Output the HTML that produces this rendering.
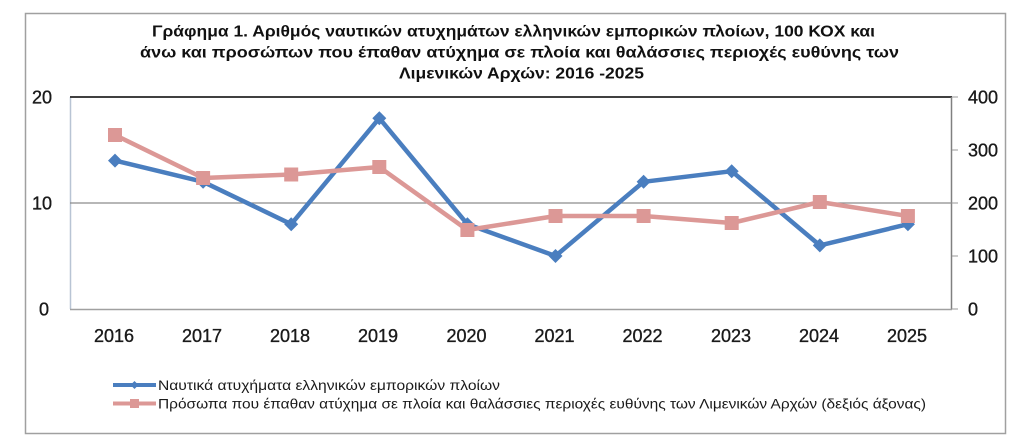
<!DOCTYPE html>
<html><head><meta charset="utf-8"><style>
html,body{margin:0;padding:0;background:#fff;}
svg{display:block;}
text{font-family:"Liberation Sans","DejaVu Sans",sans-serif;}
</style></head><body>
<svg width="1024" height="445" viewBox="0 0 1024 445" xmlns="http://www.w3.org/2000/svg">
<rect x="0" y="0" width="1024" height="445" fill="#fff"/>
<!-- outer frame -->
<rect x="25.5" y="13.5" width="980" height="420" fill="#fff" stroke="#a0a0a0" stroke-width="1.5"/>
<!-- title -->
<g font-weight="bold" font-size="15.5" fill="#111">
<text x="152" y="36.5" textLength="723" lengthAdjust="spacingAndGlyphs">Γράφημα 1. Αριθμός ναυτικών ατυχημάτων ελληνικών εμπορικών πλοίων, 100 ΚΟΧ και</text>
<text x="140" y="57.5" textLength="759" lengthAdjust="spacingAndGlyphs">άνω και προσώπων που έπαθαν ατύχημα σε πλοία και θαλάσσιες περιοχές ευθύνης των</text>
<text x="399" y="78.5" textLength="245" lengthAdjust="spacingAndGlyphs">Λιμενικών Αρχών: 2016 -2025</text>
</g>
<!-- plot area -->
<line x1="70.5" y1="97" x2="70.5" y2="309" stroke="#b8c4d4" stroke-width="1.5"/>
<line x1="70" y1="97" x2="952" y2="97" stroke="#404040" stroke-width="2"/>
<line x1="951.5" y1="97" x2="951.5" y2="309.5" stroke="#808080" stroke-width="1.5"/>
<line x1="70" y1="309.5" x2="952" y2="309.5" stroke="#a0a0a0" stroke-width="1.5"/>
<line x1="70" y1="203" x2="952" y2="203" stroke="#8c8c8c" stroke-width="1.2"/>
<!-- right ticks -->
<g stroke="#999" stroke-width="1">
<line x1="952" y1="97" x2="958" y2="97"/>
<line x1="952" y1="150" x2="958" y2="150"/>
<line x1="952" y1="203" x2="958" y2="203"/>
<line x1="952" y1="256" x2="958" y2="256"/>
<line x1="952" y1="309" x2="958" y2="309"/>
</g>
<!-- left axis labels -->
<g font-size="18" fill="#1a1a1a" stroke="#1a1a1a" stroke-width="0.35" text-anchor="end">
<text x="52" y="103.5">20</text>
<text x="52" y="209.5">10</text>
<text x="49" y="315.5">0</text>
</g>
<!-- right axis labels -->
<g font-size="18" fill="#1a1a1a" stroke="#1a1a1a" stroke-width="0.35">
<text x="968" y="103.5">400</text>
<text x="968" y="156.5">300</text>
<text x="968" y="209.5">200</text>
<text x="968" y="262.5">100</text>
<text x="968" y="315.5">0</text>
</g>
<!-- x labels -->
<g font-size="18" fill="#1a1a1a" stroke="#1a1a1a" stroke-width="0.35" text-anchor="middle">
<text x="114" y="342">2016</text>
<text x="202" y="342">2017</text>
<text x="290" y="342">2018</text>
<text x="378" y="342">2019</text>
<text x="466.5" y="342">2020</text>
<text x="554.5" y="342">2021</text>
<text x="642.5" y="342">2022</text>
<text x="731" y="342">2023</text>
<text x="819" y="342">2024</text>
<text x="907" y="342">2025</text>
</g>
<!-- blue series -->
<polyline fill="none" stroke="#4a7ebf" stroke-width="4.5" stroke-linejoin="round"
 points="115,160.6 203.1,181.8 291.2,224.2 379.3,118.2 467.4,224.2 555.5,256 643.6,181.8 731.7,171.2 819.8,245.4 907.9,224.2"/>
<g fill="#4a7ebf">
<polygon points="115,153.6 122,160.6 115,167.6 108,160.6"/>
<polygon points="203.1,174.8 210.1,181.8 203.1,188.8 196.1,181.8"/>
<polygon points="291.2,217.2 298.2,224.2 291.2,231.2 284.2,224.2"/>
<polygon points="379.3,111.2 386.3,118.2 379.3,125.2 372.3,118.2"/>
<polygon points="467.4,217.2 474.4,224.2 467.4,231.2 460.4,224.2"/>
<polygon points="555.5,249 562.5,256 555.5,263 548.5,256"/>
<polygon points="643.6,174.8 650.6,181.8 643.6,188.8 636.6,181.8"/>
<polygon points="731.7,164.2 738.7,171.2 731.7,178.2 724.7,171.2"/>
<polygon points="819.8,238.4 826.8,245.4 819.8,252.4 812.8,245.4"/>
<polygon points="907.9,217.2 914.9,224.2 907.9,231.2 900.9,224.2"/>
</g>
<!-- pink series -->
<polyline fill="none" stroke="#dc9896" stroke-width="4.5" stroke-linejoin="round"
 points="115,135 203.1,178 291.2,174.5 379.3,167 467.4,230 555.5,216 643.6,216 731.7,223 819.8,202 907.9,216"/>
<g fill="#dc9896">
<rect x="108" y="128" width="14" height="14"/>
<rect x="196.1" y="171" width="14" height="14"/>
<rect x="284.2" y="167.5" width="14" height="14"/>
<rect x="372.3" y="160" width="14" height="14"/>
<rect x="460.4" y="223" width="14" height="14"/>
<rect x="548.5" y="209" width="14" height="14"/>
<rect x="636.6" y="209" width="14" height="14"/>
<rect x="724.7" y="216" width="14" height="14"/>
<rect x="812.8" y="195" width="14" height="14"/>
<rect x="900.9" y="209" width="14" height="14"/>
</g>
<!-- legend -->
<line x1="113" y1="385" x2="156" y2="385" stroke="#4a7ebf" stroke-width="4"/>
<polygon points="134.5,381 138.5,385 134.5,389 130.5,385" fill="#4a7ebf"/>
<line x1="113" y1="403.5" x2="156" y2="403.5" stroke="#dc9896" stroke-width="4"/>
<rect x="130" y="399" width="9" height="9" fill="#dc9896"/>
<g font-size="14" fill="#1a1a1a">
<text x="158" y="390" textLength="342" lengthAdjust="spacingAndGlyphs">Ναυτικά ατυχήματα ελληνικών εμπορικών πλοίων</text>
<text x="158" y="408.5" textLength="768" lengthAdjust="spacingAndGlyphs">Πρόσωπα που έπαθαν ατύχημα σε πλοία και θαλάσσιες περιοχές ευθύνης των Λιμενικών Αρχών (δεξιός άξονας)</text>
</g>
</svg>
</body></html>
